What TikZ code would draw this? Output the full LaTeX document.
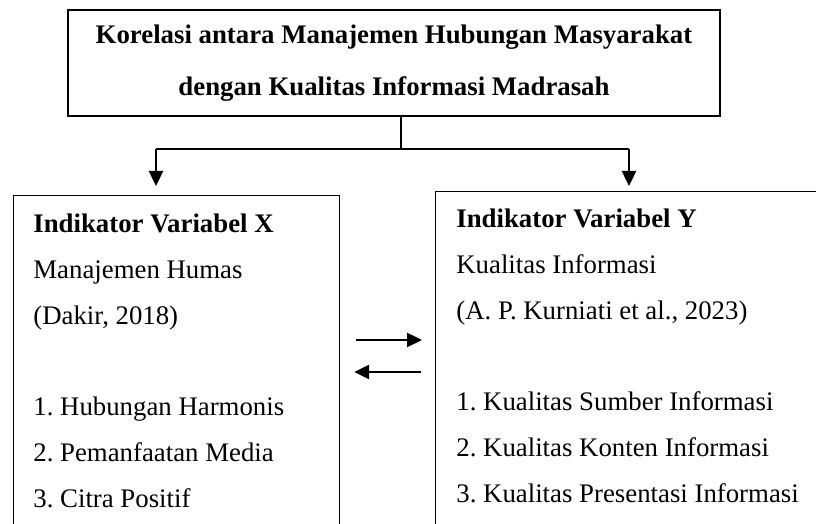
\documentclass[tikz,border=0pt]{standalone}
\usepackage{fontspec}
\setmainfont{Liberation Serif}
\usetikzlibrary{positioning}
\usetikzlibrary{calc}
\usetikzlibrary{arrows.meta}
\frenchspacing
\tikzset{>={Triangle[length=7.5pt,width=7pt]}}
\tikzset{
  framebox/.style={draw, line width=0.6pt, inner sep=0pt},
  boxtext/.style={inner sep=0pt, align=left, font=\fontsize{13.4}{22.85}\selectfont},
  thinline/.style={line width=0.6pt},
  flow/.style={->, line width=1.2pt}
}

\begin{document}
\begin{tikzpicture}[x=0.5pt, y=-0.5pt]
\useasboundingbox (0,0) rectangle (816,524);
\clip (0,0) rectangle (816,524);

% ================= Title box =================
\node[framebox, minimum width=326pt, minimum height=53pt, align=center,
      font=\bfseries\fontsize{13.4}{26}\selectfont] (title) at (394,63)
  {Korelasi antara Manajemen Hubungan Masyarakat\\dengan Kualitas Informasi Madrasah};

% ================= Variabel X =================
\node[framebox, anchor=north west, minimum width=163pt, minimum height=200pt] (boxX) at (13,195) {};
\node[boxtext, anchor=north west] (textX) at ([shift={(20,19)}]boxX.north west)
  {\textbf{Indikator Variabel X}\\ Manajemen Humas\\ (Dakir, 2018)\\[22.85pt]
   1. Hubungan Harmonis\\ 2. Pemanfaatan Media\\ 3. Citra Positif};

% ================= Variabel Y =================
\node[framebox, anchor=north west, minimum width=200pt, minimum height=200pt] (boxY) at (435,191) {};
\node[boxtext, anchor=north west] (textY) at ([shift={(21,18)}]boxY.north west)
  {\textbf{Indikator Variabel Y}\\ Kualitas Informasi\\ (A. P. Kurniati et al., 2023)\\[22.85pt]
   1. Kualitas Sumber Informasi\\ 2. Kualitas Konten Informasi\\ 3. Kualitas Presentasi Informasi};

% Branch from the title
\coordinate (fork) at (401,149);
\coordinate (forkL) at (156,149);
\coordinate (forkR) at (629,149);
\draw[thinline] (fork |- title.south) -- (fork);
\draw[thinline] (forkL) -- (forkR);
\draw[flow, shorten >=4.5pt] (forkL) -- (forkL |- boxX.north);
\draw[flow, shorten >=2.5pt] (forkR) -- (forkR |- boxY.north);

% Two-way relation
\draw[flow, shorten <=8pt, shorten >=6.5pt] (boxX.east |- 0,340) -- (boxY.west |- 0,340);
\draw[flow, shorten <=7pt, shorten >=7pt] (boxY.west |- 0,372) -- (boxX.east |- 0,372);

\end{tikzpicture}
\end{document}
